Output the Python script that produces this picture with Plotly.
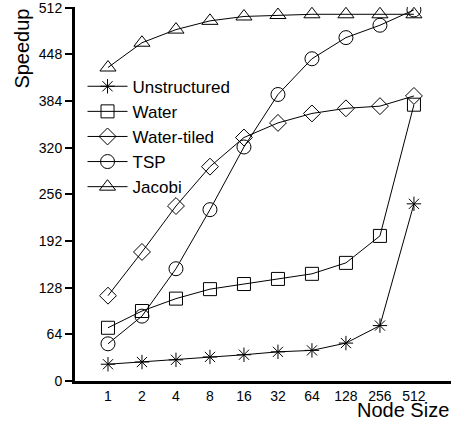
import plotly.graph_objects as go

node_sizes = ["1", "2", "4", "8", "16", "32", "64", "128", "256", "512"]
unstructured = [23, 26, 29, 33, 36, 40, 42, 52, 76, 243]
water = [73, 96, 113, 126, 133, 140, 147, 162, 199, 379]
water_tiled = [117, 177, 240, 294, 334, 354, 367, 374, 377, 391]
tsp = [51, 89, 154, 235, 321, 393, 442, 471, 488, 509]
jacobi = [430, 464, 482, 494, 500, 502, 503, 503, 503, 503]
y_ticks = [0, 64, 128, 192, 256, 320, 384, 448, 512]

series = [
    ("Unstructured", unstructured, "asterisk-open", 12),
    ("Water", water, "square-open", 13),
    ("Water-tiled", water_tiled, "diamond-open", 13),
    ("TSP", tsp, "circle-open", 14),
    ("Jacobi", jacobi, "triangle-up-open", 14),
]

xi = list(range(len(node_sizes)))
fig = go.Figure()
for name, vals, sym, sz in series:
    fig.add_trace(go.Scatter(
        x=xi, y=vals, name=name, mode="lines+markers",
        line=dict(color="black", width=1),
        marker=dict(symbol=sym, size=sz, color="black", line=dict(color="black", width=1)),
    ))

font = "Liberation Sans, Arial, Helvetica, sans-serif"
fig.update_layout(
    width=451, height=424,
    margin=dict(l=75, r=0, t=7, b=43),
    paper_bgcolor="white", plot_bgcolor="white",
    font=dict(family=font, color="black", size=14),
    showlegend=True,
    legend=dict(x=0.02, y=0.835, xanchor="left", yanchor="top",
                font=dict(size=17, family=font), bgcolor="rgba(0,0,0,0)",
                itemwidth=40, tracegroupgap=0),
    xaxis=dict(range=[-0.97, 10.09], tickmode="array", tickvals=xi, ticktext=node_sizes,
               showgrid=False, zeroline=False, showline=True, linecolor="black", linewidth=3,
               ticks="", tickfont=dict(size=14)),
    yaxis=dict(range=[0, 513], tickmode="array", tickvals=y_ticks,
               showgrid=False, zeroline=False, showline=True, linecolor="black", linewidth=3,
               ticks="outside", ticklen=7, tickwidth=1.5, tickcolor="black", tickfont=dict(size=14),
               ticklabeloverflow="allow"),
    annotations=[
        dict(text="Speedup", xref="paper", yref="paper", x=-0.142, y=1.0, xanchor="center",
             yanchor="top", textangle=-90, showarrow=False, font=dict(size=20)),
        dict(text="Node Size", xref="paper", yref="paper", x=1.0, y=-0.044, xanchor="right",
             yanchor="top", showarrow=False, font=dict(size=20)),
    ],
)
fig.write_html("out.html")
